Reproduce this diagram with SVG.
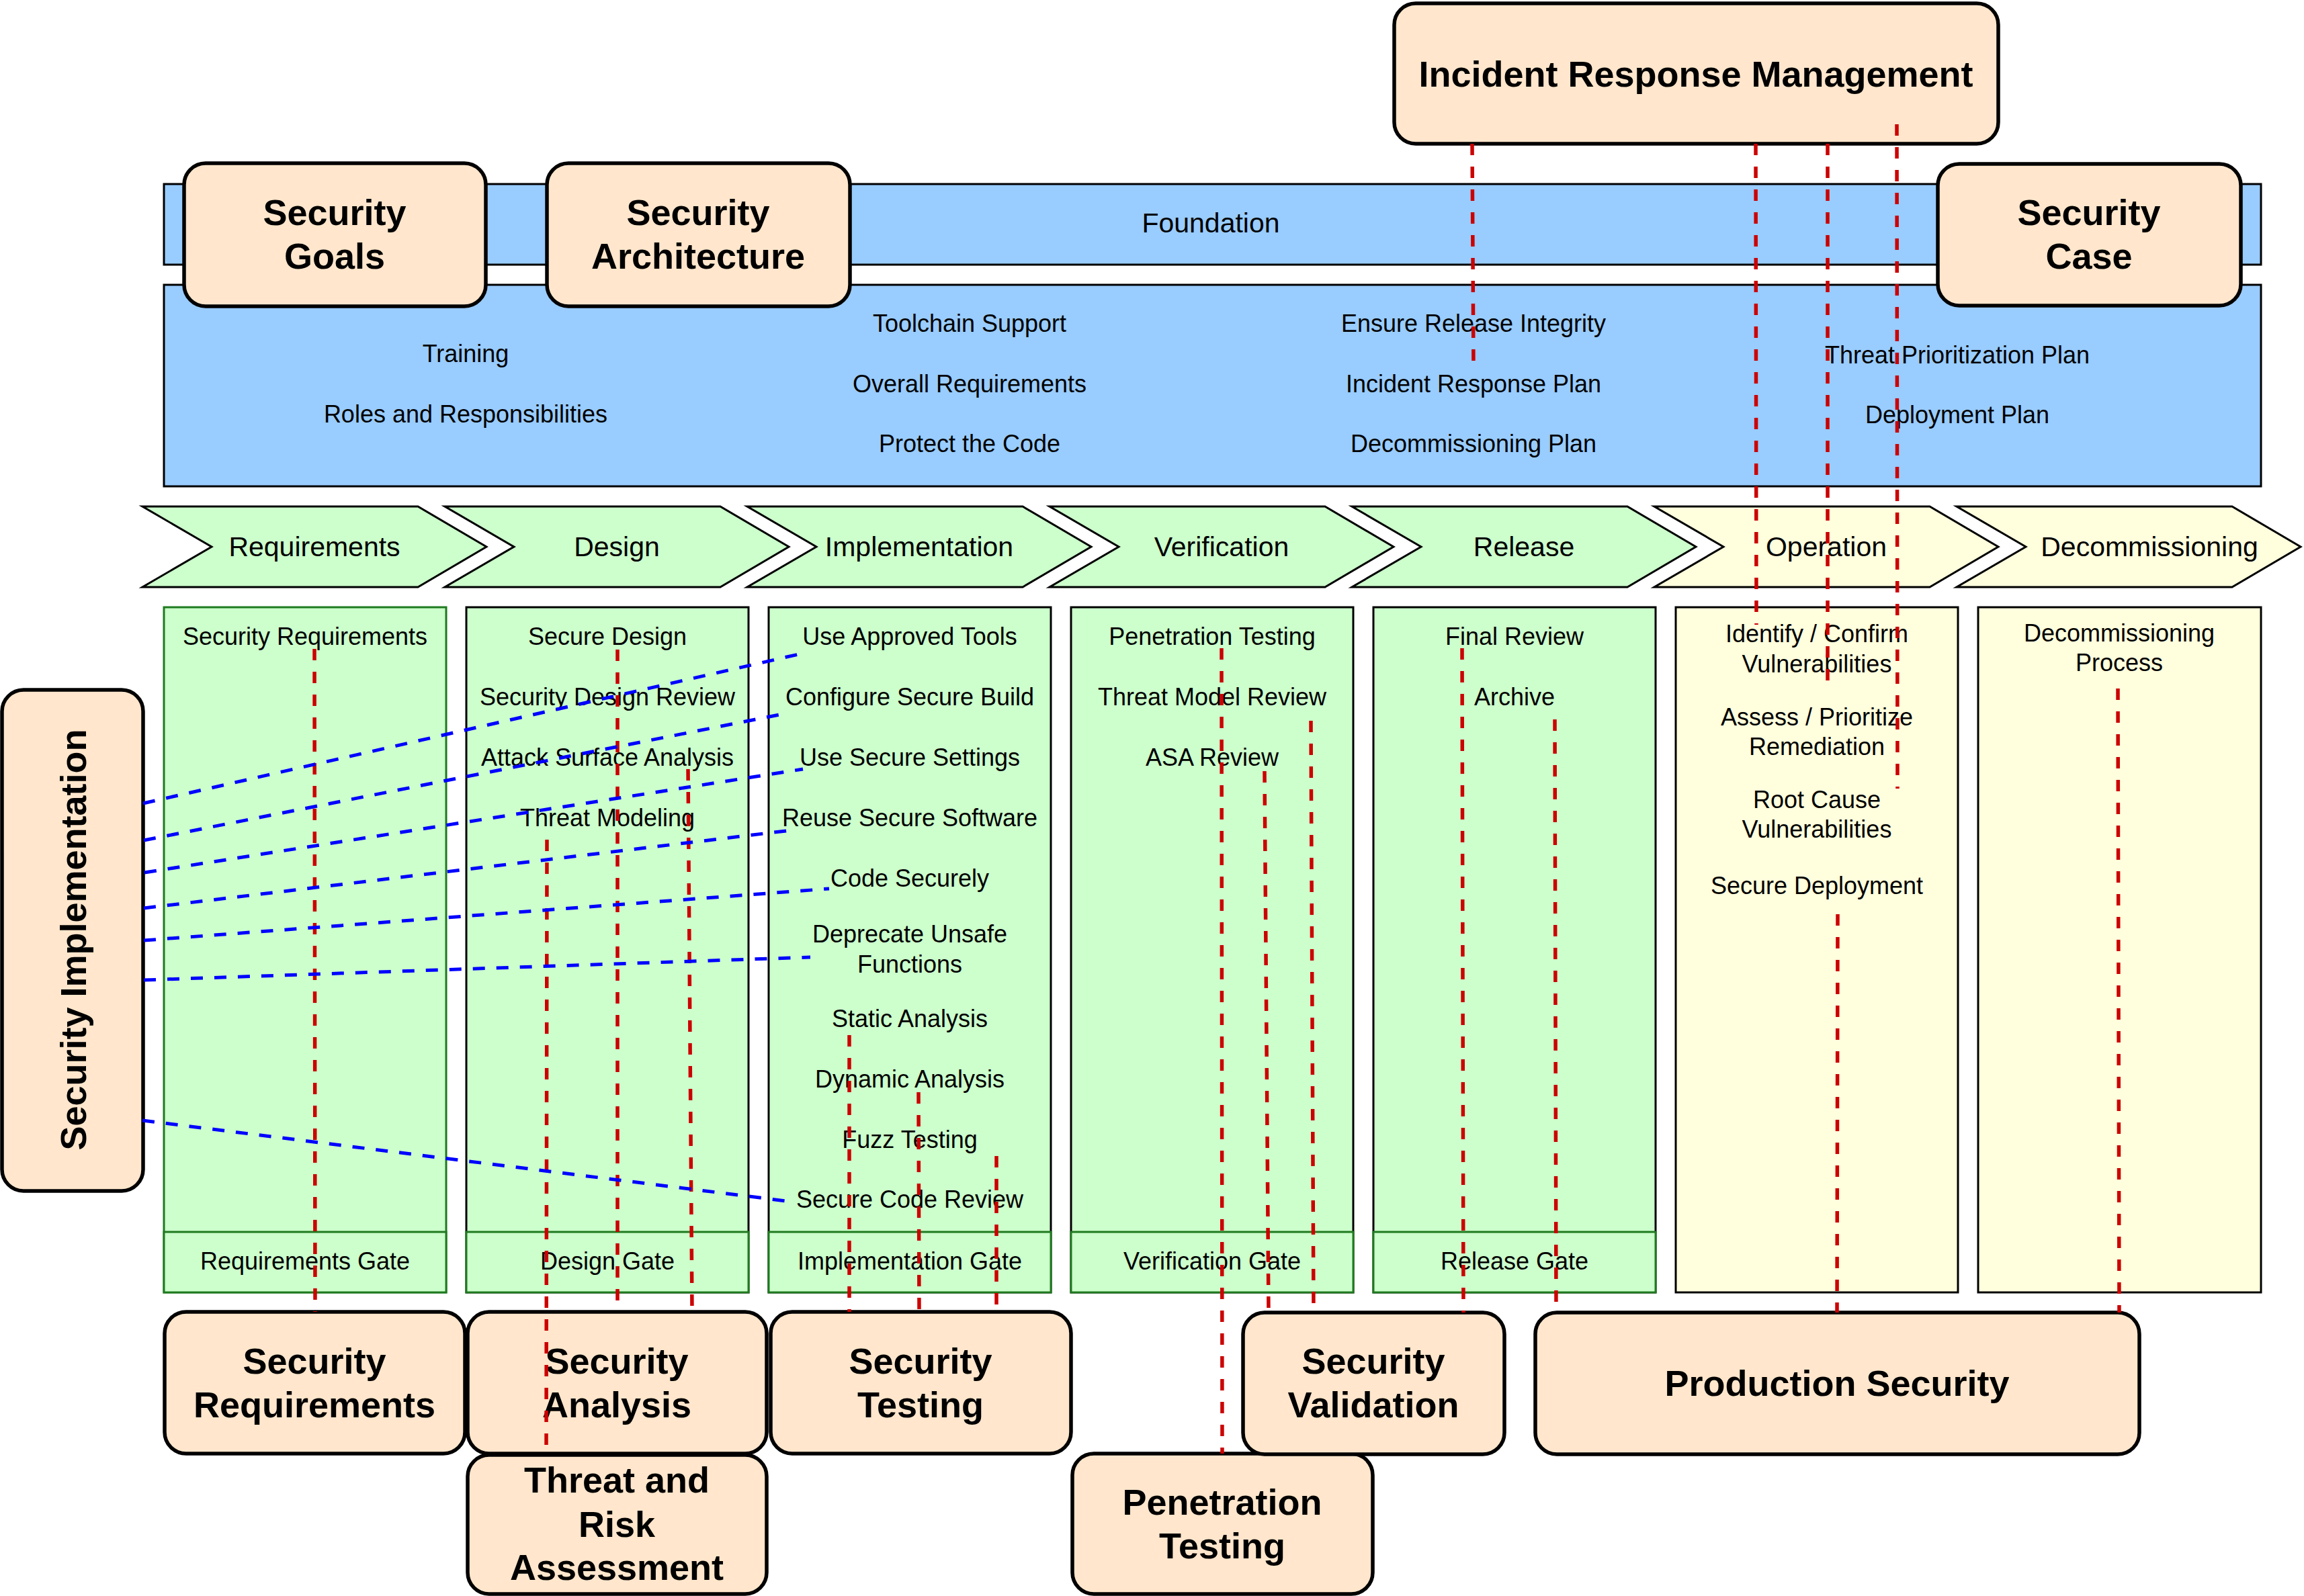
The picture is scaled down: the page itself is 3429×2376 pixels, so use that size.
<svg xmlns="http://www.w3.org/2000/svg" width="3429" height="2376" viewBox="0 0 3429 2376">
<style>
text{font-family:"Liberation Sans",Arial,Helvetica,sans-serif;fill:#000;text-anchor:middle}
.it{font-size:36px}
.ch{font-size:41px}
.bx{font-size:54px;font-weight:bold}
.blue{fill:#99CCFF;stroke:#000;stroke-width:3}
.box{fill:#FFE6CC;stroke:#000;stroke-width:5.5}
.chg{fill:#CCFFCC;stroke:#000;stroke-width:3}
.chy{fill:#FFFFDD;stroke:#000;stroke-width:3}
.colg{fill:#CCFFCC;stroke:#000;stroke-width:3}
.colgg{fill:#CCFFCC;stroke:#1F7A1F;stroke-width:3}
.coly{fill:#FFFFDD;stroke:#000;stroke-width:3}
.gate{fill:#CCFFCC;stroke:#1F7A1F;stroke-width:3}
.red{stroke:#CC0000;stroke-width:5.5;stroke-dasharray:17 17;fill:none}
.bl{stroke:#0000FF;stroke-width:5;stroke-dasharray:18 17;fill:none}
</style>

<g id="foundation">
<rect class="blue" x="244" y="274" width="3121" height="120"/>
<text class="ch" x="1802" y="346">Foundation</text>
</g>
<g id="foundation-items">
<rect class="blue" x="244" y="424" width="3121" height="300"/>
<text class="it" x="693" y="539">Training</text>
<text class="it" x="693" y="629">Roles and Responsibilities</text>
<text class="it" x="1443" y="494">Toolchain Support</text>
<text class="it" x="1443" y="584">Overall Requirements</text>
<text class="it" x="1443" y="673">Protect the Code</text>
<text class="it" x="2193" y="494">Ensure Release Integrity</text>
<text class="it" x="2193" y="584">Incident Response Plan</text>
<text class="it" x="2193" y="673">Decommissioning Plan</text>
<text class="it" x="2913" y="541">Threat Prioritization Plan</text>
<text class="it" x="2913" y="630">Deployment Plan</text>
</g>

<g id="security-goals">
<rect class="box" x="274" y="243" width="449" height="213" rx="32"/>
<text class="bx" x="498" y="335">Security</text>
<text class="bx" x="498" y="400">Goals</text>
</g>
<g id="security-architecture">
<rect class="box" x="814" y="243" width="451" height="213" rx="32"/>
<text class="bx" x="1039" y="335">Security</text>
<text class="bx" x="1039" y="400">Architecture</text>
</g>
<g id="security-case">
<rect class="box" x="2884" y="244" width="451" height="211" rx="32"/>
<text class="bx" x="3109" y="335">Security</text>
<text class="bx" x="3109" y="400">Case</text>
</g>
<g id="incident-response-management">
<rect class="box" x="2075" y="5" width="899" height="209" rx="32"/>
<text class="bx" x="2524" y="129">Incident Response Management</text>
</g>

<g id="phase-requirements">
<polygon class="chg" points="212,754 622,754 724,814 622,874 212,874 315,814"/>
<text class="ch" x="468" y="828">Requirements</text>
</g>
<g id="phase-design">
<polygon class="chg" points="662,754 1072,754 1174,814 1072,874 662,874 765,814"/>
<text class="ch" x="918" y="828">Design</text>
</g>
<g id="phase-implementation">
<polygon class="chg" points="1112,754 1522,754 1624,814 1522,874 1112,874 1215,814"/>
<text class="ch" x="1368" y="828">Implementation</text>
</g>
<g id="phase-verification">
<polygon class="chg" points="1562,754 1972,754 2074,814 1972,874 1562,874 1665,814"/>
<text class="ch" x="1818" y="828">Verification</text>
</g>
<g id="phase-release">
<polygon class="chg" points="2012,754 2422,754 2524,814 2422,874 2012,874 2115,814"/>
<text class="ch" x="2268" y="828">Release</text>
</g>
<g id="phase-operation">
<polygon class="chy" points="2462,754 2872,754 2974,814 2872,874 2462,874 2565,814"/>
<text class="ch" x="2718" y="828">Operation</text>
</g>
<g id="phase-decommissioning">
<polygon class="chy" points="2912,754 3322,754 3424,814 3322,874 2912,874 3015,814"/>
<text class="ch" x="3199" y="828">Decommissioning</text>
</g>

<g id="col-requirements">
<rect class="colgg" x="244" y="904" width="420" height="1020"/>
<rect class="gate" x="244" y="1834" width="420" height="90"/>
<text class="it" x="454" y="960">Security Requirements</text>
<text class="it" x="454" y="1890">Requirements Gate</text>
</g>
<g id="col-design">
<rect class="colg" x="694" y="904" width="420" height="1020"/>
<rect class="gate" x="694" y="1834" width="420" height="90"/>
<text class="it" x="904" y="960">Secure Design</text>
<text class="it" x="904" y="1050">Security Design Review</text>
<text class="it" x="904" y="1140">Attack Surface Analysis</text>
<text class="it" x="904" y="1230">Threat Modeling</text>
<text class="it" x="904" y="1890">Design Gate</text>
</g>
<g id="col-implementation">
<rect class="colg" x="1144" y="904" width="420" height="1020"/>
<rect class="gate" x="1144" y="1834" width="420" height="90"/>
<text class="it" x="1354" y="960">Use Approved Tools</text>
<text class="it" x="1354" y="1050">Configure Secure Build</text>
<text class="it" x="1354" y="1140">Use Secure Settings</text>
<text class="it" x="1354" y="1230">Reuse Secure Software</text>
<text class="it" x="1354" y="1320">Code Securely</text>
<text class="it" x="1354" y="1403">Deprecate Unsafe</text>
<text class="it" x="1354" y="1448">Functions</text>
<text class="it" x="1354" y="1529">Static Analysis</text>
<text class="it" x="1354" y="1619">Dynamic Analysis</text>
<text class="it" x="1354" y="1709">Fuzz Testing</text>
<text class="it" x="1354" y="1798">Secure Code Review</text>
<text class="it" x="1354" y="1890">Implementation Gate</text>
</g>
<g id="col-verification">
<rect class="colg" x="1594" y="904" width="420" height="1020"/>
<rect class="gate" x="1594" y="1834" width="420" height="90"/>
<text class="it" x="1804" y="960">Penetration Testing</text>
<text class="it" x="1804" y="1050">Threat Model Review</text>
<text class="it" x="1804" y="1140">ASA Review</text>
<text class="it" x="1804" y="1890">Verification Gate</text>
</g>
<g id="col-release">
<rect class="colg" x="2044" y="904" width="420" height="1020"/>
<rect class="gate" x="2044" y="1834" width="420" height="90"/>
<text class="it" x="2254" y="960">Final Review</text>
<text class="it" x="2254" y="1050">Archive</text>
<text class="it" x="2254" y="1890">Release Gate</text>
</g>
<g id="col-operation">
<rect class="coly" x="2494" y="904" width="420" height="1020"/>
<text class="it" x="2704" y="956">Identify / Confirm</text>
<text class="it" x="2704" y="1001">Vulnerabilities</text>
<text class="it" x="2704" y="1080">Assess / Prioritize</text>
<text class="it" x="2704" y="1124">Remediation</text>
<text class="it" x="2704" y="1203">Root Cause</text>
<text class="it" x="2704" y="1247">Vulnerabilities</text>
<text class="it" x="2704" y="1331">Secure Deployment</text>
</g>
<g id="col-decommissioning">
<rect class="coly" x="2944" y="904" width="421" height="1020"/>
<text class="it" x="3154" y="955">Decommissioning</text>
<text class="it" x="3154" y="999">Process</text>
</g>

<g id="security-implementation">
<rect class="box" x="3" y="1027" width="210" height="746" rx="32"/>
<text class="bx" x="108" y="1419" transform="rotate(-90 108 1399)">Security Implementation</text>
</g>

<g id="security-requirements">
<rect class="box" x="245" y="1953" width="447" height="211" rx="32"/>
<text class="bx" x="468" y="2045">Security</text>
<text class="bx" x="468" y="2110">Requirements</text>
</g>
<g id="security-analysis">
<rect class="box" x="696" y="1953" width="445" height="211" rx="32"/>
<text class="bx" x="918" y="2045">Security</text>
<text class="bx" x="918" y="2110">Analysis</text>
</g>
<g id="security-testing">
<rect class="box" x="1147" y="1953" width="447" height="211" rx="32"/>
<text class="bx" x="1370" y="2045">Security</text>
<text class="bx" x="1370" y="2110">Testing</text>
</g>
<g id="threat-and-risk-assessment">
<rect class="box" x="696" y="2166" width="445" height="207" rx="32"/>
<text class="bx" x="918" y="2222">Threat and</text>
<text class="bx" x="918" y="2288">Risk</text>
<text class="bx" x="918" y="2352">Assessment</text>
</g>
<g id="penetration-testing">
<rect class="box" x="1596" y="2164" width="447" height="209" rx="32"/>
<text class="bx" x="1819" y="2255">Penetration</text>
<text class="bx" x="1819" y="2320">Testing</text>
</g>
<g id="security-validation">
<rect class="box" x="1850" y="1954" width="389" height="211" rx="32"/>
<text class="bx" x="2044" y="2045">Security</text>
<text class="bx" x="2044" y="2110">Validation</text>
</g>
<g id="production-security">
<rect class="box" x="2285" y="1954" width="899" height="211" rx="32"/>
<text class="bx" x="2734" y="2078">Production Security</text>
</g>

<g id="connectors">
<line class="red" x1="468" y1="966" x2="469" y2="1953"/>
<line class="red" x1="919" y1="967" x2="919" y2="1953"/>
<line class="red" x1="1024" y1="1145" x2="1030" y2="1953"/>
<line class="red" x1="814" y1="1250" x2="813" y2="2166"/>
<line class="red" x1="1264" y1="1541" x2="1264" y2="1953"/>
<line class="red" x1="1367" y1="1626" x2="1368" y2="1953"/>
<line class="red" x1="1483" y1="1721" x2="1483" y2="1953"/>
<line class="red" x1="1818" y1="965" x2="1819" y2="2164"/>
<line class="red" x1="1882" y1="1148" x2="1888" y2="1954"/>
<line class="red" x1="1951" y1="1073" x2="1955" y2="1954"/>
<line class="red" x1="2176" y1="965" x2="2178" y2="1954"/>
<line class="red" x1="2314" y1="1071" x2="2316" y2="1954"/>
<line class="red" x1="2735" y1="1361" x2="2734" y2="1954"/>
<line class="red" x1="3152" y1="1025" x2="3154" y2="1954"/>
<line class="red" x1="2191" y1="214" x2="2193" y2="545"/>
<line class="red" x1="2613" y1="214" x2="2614" y2="930"/>
<line class="red" x1="2720" y1="214" x2="2720" y2="1022"/>
<line class="red" x1="2823" y1="185" x2="2824" y2="1174"/>
<line class="bl" x1="213" y1="1196" x2="1193" y2="973"/>
<line class="bl" x1="214" y1="1251" x2="1175" y2="1061"/>
<line class="bl" x1="215" y1="1299" x2="1195" y2="1145"/>
<line class="bl" x1="214" y1="1352" x2="1178" y2="1236"/>
<line class="bl" x1="214" y1="1400" x2="1234" y2="1323"/>
<line class="bl" x1="214" y1="1459" x2="1206" y2="1425"/>
<line class="bl" x1="212" y1="1668" x2="1178" y2="1789"/>
</g>
</svg>
